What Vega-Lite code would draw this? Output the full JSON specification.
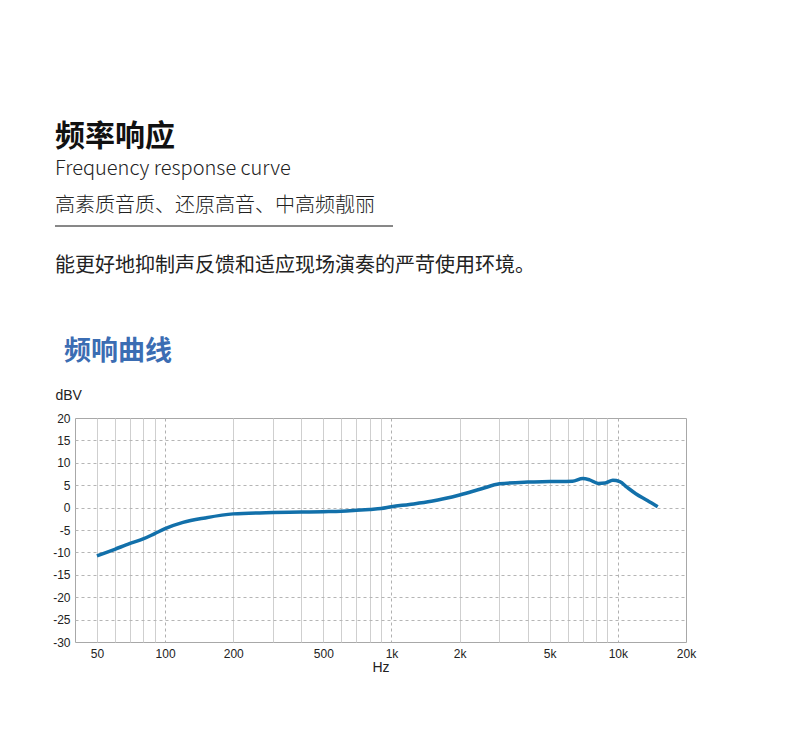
{
  "$schema": "https://vega.github.io/schema/vega-lite/v6.json",
  "padding": {"left": 52, "top": 121, "right": 0, "bottom": 0},
  "background": "white",
  "config": {"font": "Noto Sans CJK SC", "view": {"stroke": null}, "concat": {"spacing": 0}},
  "vconcat": [
    {
      "width": 318,
      "height": 29,
      "title": {
        "text": "频率响应",
        "subtitle": ["Frequency response curve", "高素质音质、还原高音、中高频靓丽"],
        "anchor": "start",
        "frame": "group",
        "dx": -20,
        "fontSize": 30,
        "fontWeight": "bold",
        "color": "#111111",
        "subtitleFontSize": 20,
        "subtitleFontWeight": 300,
        "subtitleColor": "#222222",
        "subtitleLineHeight": 37,
        "subtitlePadding": 7,
        "offset": 10
      },
      "data": {"values": [{"a": -0.0629, "b": 1, "y": 1}]},
      "mark": {"type": "rule", "color": "#111111", "strokeWidth": 1},
      "encoding": {
        "x": {"field": "a", "type": "quantitative", "scale": {"domain": [0, 1]}, "axis": null},
        "x2": {"field": "b"},
        "y": {"field": "y", "type": "quantitative", "scale": {"domain": [0, 1]}, "axis": null}
      }
    },
    {
      "width": 611,
      "height": 61,
      "title": {
        "text": "能更好地抑制声反馈和适应现场演奏的严苛使用环境。",
        "anchor": "start",
        "frame": "group",
        "dx": -20,
        "fontSize": 20,
        "fontWeight": "normal",
        "color": "#222222",
        "offset": 0
      },
      "data": {"values": [{"a": 0}]},
      "mark": {"type": "rule", "opacity": 0},
      "encoding": {}
    },
    {
      "width": 611,
      "height": 224,
      "view": {"stroke": "#a8a8a8", "strokeWidth": 1},
      "title": {
        "text": "频响曲线",
        "anchor": "start",
        "frame": "group",
        "dx": -11,
        "fontSize": 27,
        "fontWeight": "bold",
        "color": "#3b6db3",
        "offset": 22
      },
      "data": {
        "values": [
          {"freq": 50, "db": -10.8},
          {"freq": 60, "db": -9.3},
          {"freq": 70, "db": -8.0},
          {"freq": 80, "db": -7.0},
          {"freq": 90, "db": -5.8},
          {"freq": 100, "db": -4.7},
          {"freq": 120, "db": -3.3},
          {"freq": 150, "db": -2.3},
          {"freq": 200, "db": -1.4},
          {"freq": 300, "db": -1.1},
          {"freq": 400, "db": -1.0},
          {"freq": 500, "db": -0.9},
          {"freq": 600, "db": -0.8},
          {"freq": 700, "db": -0.6},
          {"freq": 800, "db": -0.4},
          {"freq": 900, "db": -0.2},
          {"freq": 1000, "db": 0.2},
          {"freq": 1200, "db": 0.7},
          {"freq": 1500, "db": 1.4},
          {"freq": 2000, "db": 2.8},
          {"freq": 2500, "db": 4.2},
          {"freq": 3000, "db": 5.3},
          {"freq": 4000, "db": 5.7},
          {"freq": 5000, "db": 5.8},
          {"freq": 6300, "db": 5.9},
          {"freq": 7000, "db": 6.5},
          {"freq": 7500, "db": 6.2},
          {"freq": 8200, "db": 5.4},
          {"freq": 8800, "db": 5.5},
          {"freq": 9500, "db": 6.1},
          {"freq": 10200, "db": 5.8},
          {"freq": 11000, "db": 4.5},
          {"freq": 12000, "db": 3.1},
          {"freq": 13500, "db": 1.6},
          {"freq": 15000, "db": 0.2}
        ]
      },
      "mark": {"type": "line", "color": "#1270aa", "strokeWidth": 3.5, "interpolate": "monotone"},
      "encoding": {
        "x": {
          "field": "freq",
          "type": "quantitative",
          "scale": {"type": "log", "domain": [40, 20000], "nice": false},
          "axis": {
            "values": [50, 60, 70, 80, 90, 100, 200, 300, 400, 500, 600, 700, 800, 900, 1000, 2000, 3000, 4000, 5000, 6000, 7000, 8000, 9000, 10000, 20000],
            "labelExpr": "indexof([50,100,200,500], datum.value) >= 0 ? datum.value + '' : (indexof([1000,2000,5000,10000,20000], datum.value) >= 0 ? (datum.value/1000) + 'k' : '')",
            "grid": true,
            "gridColor": {"condition": {"test": "datum.value == 100 || datum.value == 1000 || datum.value == 10000", "value": "#b0b0b0"}, "value": "#cfcfcf"},
            "gridDash": {"condition": {"test": "datum.value == 100 || datum.value == 1000 || datum.value == 10000", "value": [3, 3]}, "value": []},
            "gridOpacity": {"condition": {"test": "datum.value == 20000", "value": 0}, "value": 1},
            "ticks": false,
            "domain": false,
            "labelFont": "Liberation Sans",
            "labelFontSize": 12,
            "labelColor": "#222222",
            "labelPadding": 6,
            "labelOverlap": false,
            "labelFlush": false,
            "title": "Hz",
            "titleFont": "Liberation Sans",
            "titleFontSize": 14,
            "titleFontWeight": "normal",
            "titleColor": "#222222",
            "titlePadding": 1
          }
        },
        "y": {
          "field": "db",
          "type": "quantitative",
          "scale": {"domain": [-30, 20], "nice": false},
          "axis": {
            "values": [-30, -25, -20, -15, -10, -5, 0, 5, 10, 15, 20],
            "labelExpr": "datum.value + ''",
            "grid": true,
            "gridColor": "#b5b5b5",
            "gridDash": [3, 3],
            "gridOpacity": {"condition": {"test": "datum.value == 20 || datum.value == -30", "value": 0}, "value": 1},
            "ticks": false,
            "domain": false,
            "labelFont": "Liberation Sans",
            "labelFontSize": 12,
            "labelColor": "#222222",
            "labelPadding": 5,
            "title": "dBV",
            "titleFont": "Liberation Sans",
            "titleFontSize": 14,
            "titleFontWeight": "normal",
            "titleColor": "#222222",
            "titleAngle": 0,
            "titleAlign": "left",
            "titleBaseline": "alphabetic",
            "titleX": -20,
            "titleY": -19
          }
        }
      }
    }
  ]
}
